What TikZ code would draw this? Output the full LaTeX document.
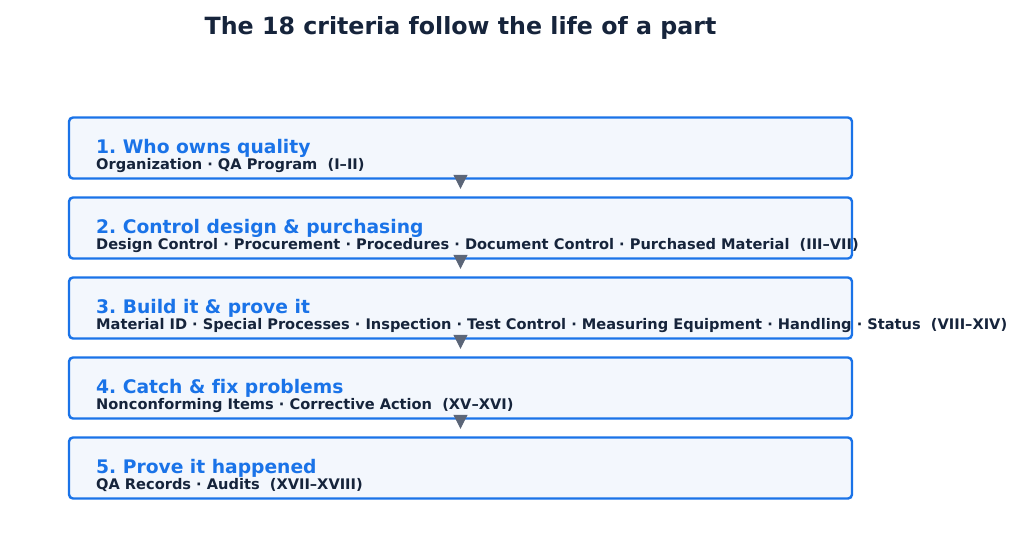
\documentclass[tikz,border=0pt]{standalone}
\usepackage{fontspec}
\setmainfont{DejaVu Sans}[Ligatures=NoCommon]
\usepackage{tikz}
\usetikzlibrary{arrows.meta}
\definecolor{stageblue}{HTML}{1A73E8}
\definecolor{stagefill}{HTML}{F3F7FD}
\definecolor{inknavy}{HTML}{16243B}
\definecolor{arrowgrey}{HTML}{5B6577}
\frenchspacing

\begin{document}
\begin{tikzpicture}[x=1pt, y=-1pt,
	stage/.style={draw=stageblue, fill=stagefill, line width=2.4pt, rounded corners=4pt, minimum width=783pt, minimum height=61pt, inner sep=0pt},
	head/.style={anchor=base west, inner sep=0pt, text=stageblue, font=\fontsize{18.7}{22}\selectfont\bfseries},
	sub/.style={anchor=base west, inner sep=0pt, text=inknavy, font=\fontsize{14.6}{17}\selectfont\bfseries},
	flow/.style={arrowgrey, line width=1pt, -{Triangle[length=14pt, width=14pt]}, shorten <=-3pt, shorten >=7.5pt}]
	\useasboundingbox (0,0) rectangle (1024,538);
	\node[anchor=base, inner sep=0pt, text=inknavy, font=\fontsize{23.7}{28}\selectfont\bfseries] (title) at (460.5,34) {The 18 criteria follow the life of a part};

	\node[stage] (b1) at (460.5,148) {};
	\node[stage] (b2) at (460.5,228) {};
	\node[stage] (b3) at (460.5,308) {};
	\node[stage] (b4) at (460.5,388) {};
	\node[stage] (b5) at (460.5,468) {};

	\node[head] (h1) at (96,153) {1. Who owns quality};
	\node[sub] (s1) at (96,169) {Organization · QA Program\ \ (I–II)};
	\node[head] (h2) at (96,233) {2. Control design \& purchasing};
	\node[sub] (s2) at (96,249) {Design Control · Procurement · Procedures · Document Control · Purchased Material\ \ (III–VII)};
	\node[head] (h3) at (96,313) {3. Build it \& prove it};
	\node[sub] (s3) at (96,329) {Material ID · Special Processes · Inspection · Test Control · Measuring Equipment · Handling · Status\ \ (VIII–XIV)};
	\node[head] (h4) at (96,393) {4. Catch \& fix problems};
	\node[sub] (s4) at (96,409) {Nonconforming Items · Corrective Action\ \ (XV–XVI)};
	\node[head] (h5) at (96,473) {5. Prove it happened};
	\node[sub] (s5) at (96,489) {QA Records · Audits\ \ (XVII–XVIII)};

	\draw[flow] (b1.south) -- (b2.north);
	\draw[flow] (b2.south) -- (b3.north);
	\draw[flow] (b3.south) -- (b4.north);
	\draw[flow] (b4.south) -- (b5.north);
\end{tikzpicture}
\end{document}
